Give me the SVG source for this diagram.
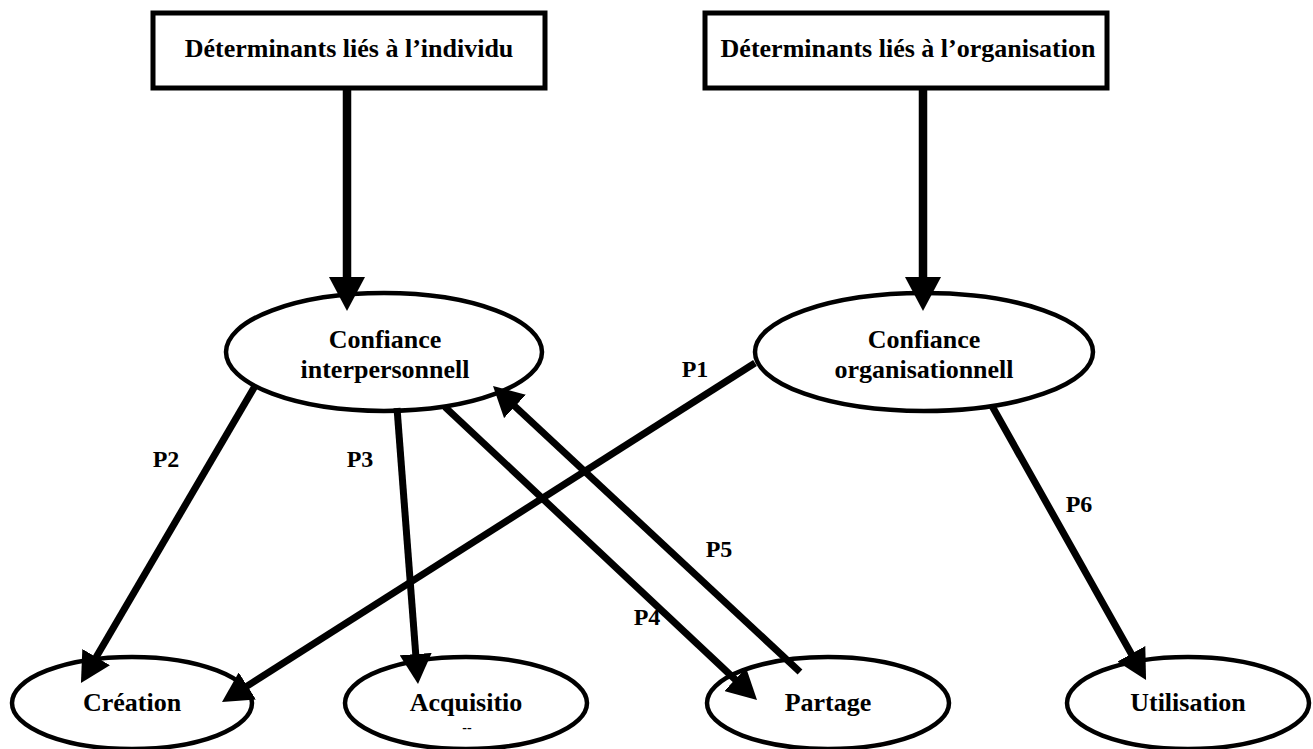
<svg xmlns="http://www.w3.org/2000/svg" width="1313" height="749" viewBox="0 0 1313 749">
<style>
.box{fill:#fff;stroke:#000;stroke-width:5}
.ell{fill:#fff;stroke:#000;stroke-width:4.5}
.t{font-family:"Liberation Serif","Times New Roman",serif;font-weight:bold;font-size:26px;fill:#000;text-anchor:middle}
.lbl{font-family:"Liberation Serif","Times New Roman",serif;font-weight:bold;font-size:24px;fill:#000;text-anchor:middle}
.big{stroke:#000;stroke-width:8.5;fill:none;marker-end:url(#ah-big)}
.sm{stroke:#000;stroke-width:7;fill:none;marker-end:url(#ah-sm)}
</style>
<defs>
<marker id="ah-big" markerUnits="userSpaceOnUse" markerWidth="34" markerHeight="36" refX="5" refY="18" orient="auto" viewBox="0 0 34 36"><path d="M0,0 L34,18 L0,36 z" fill="#000"/></marker>
<marker id="ah-sm" markerUnits="userSpaceOnUse" markerWidth="30" markerHeight="32" refX="5" refY="16" orient="auto" viewBox="0 0 30 32"><path d="M0,0 L30,16 L0,32 z" fill="#000"/></marker>
</defs>
<rect width="1313" height="749" fill="#fff"/>
<g id="det-individu"><rect class="box" x="153" y="13" width="392" height="75"/><text class="t" x="349" y="57">Déterminants liés à l’individu</text></g>
<g id="det-organisation"><rect class="box" x="705" y="13" width="402" height="75"/><text class="t" x="908" y="57">Déterminants liés à l’organisation</text></g>
<g id="confiance-interpersonnelle"><ellipse class="ell" cx="384" cy="352" rx="158" ry="59"/><text class="t" x="385" y="348">Confiance</text><text class="t" x="385" y="378">interpersonnell</text></g>
<g id="confiance-organisationnelle"><ellipse class="ell" cx="924" cy="352" rx="169" ry="59"/><text class="t" x="924" y="348">Confiance</text><text class="t" x="924" y="378">organisationnell</text></g>
<g id="creation"><ellipse class="ell" cx="132" cy="703" rx="120" ry="46"/><text class="t" x="132" y="711">Création</text></g>
<g id="acquisition"><ellipse class="ell" cx="466" cy="703" rx="121" ry="46"/><text class="t" x="466" y="711">Acquisitio</text><text class="t" style="font-size:14px" x="467" y="732">--</text></g>
<g id="partage"><ellipse class="ell" cx="828" cy="703" rx="121" ry="46"/><text class="t" x="828" y="711">Partage</text></g>
<g id="utilisation"><ellipse class="ell" cx="1188" cy="703" rx="121" ry="46"/><text class="t" x="1188" y="711">Utilisation</text></g>
<g id="connectors">
<line class="big" x1="347" y1="88" x2="347" y2="282"/>
<line class="big" x1="923" y1="88" x2="923" y2="282"/>
<line class="sm" x1="755" y1="363" x2="243.1" y2="688.6"/>
<line class="sm" x1="255" y1="386" x2="93.6" y2="661.4"/>
<line class="sm" x1="397" y1="408" x2="416.1" y2="659.1"/>
<line class="sm" x1="445" y1="407" x2="738.8" y2="682.9"/>
<line class="sm" x1="800" y1="672" x2="511.3" y2="403"/>
<line class="sm" x1="992" y1="406" x2="1133.8" y2="658.2"/>
</g>
<g id="labels">
<text class="lbl" x="695" y="377">P1</text>
<text class="lbl" x="166" y="467">P2</text>
<text class="lbl" x="360" y="467">P3</text>
<text class="lbl" x="647" y="625">P4</text>
<text class="lbl" x="719" y="557">P5</text>
<text class="lbl" x="1079" y="512">P6</text>
</g>
</svg>
